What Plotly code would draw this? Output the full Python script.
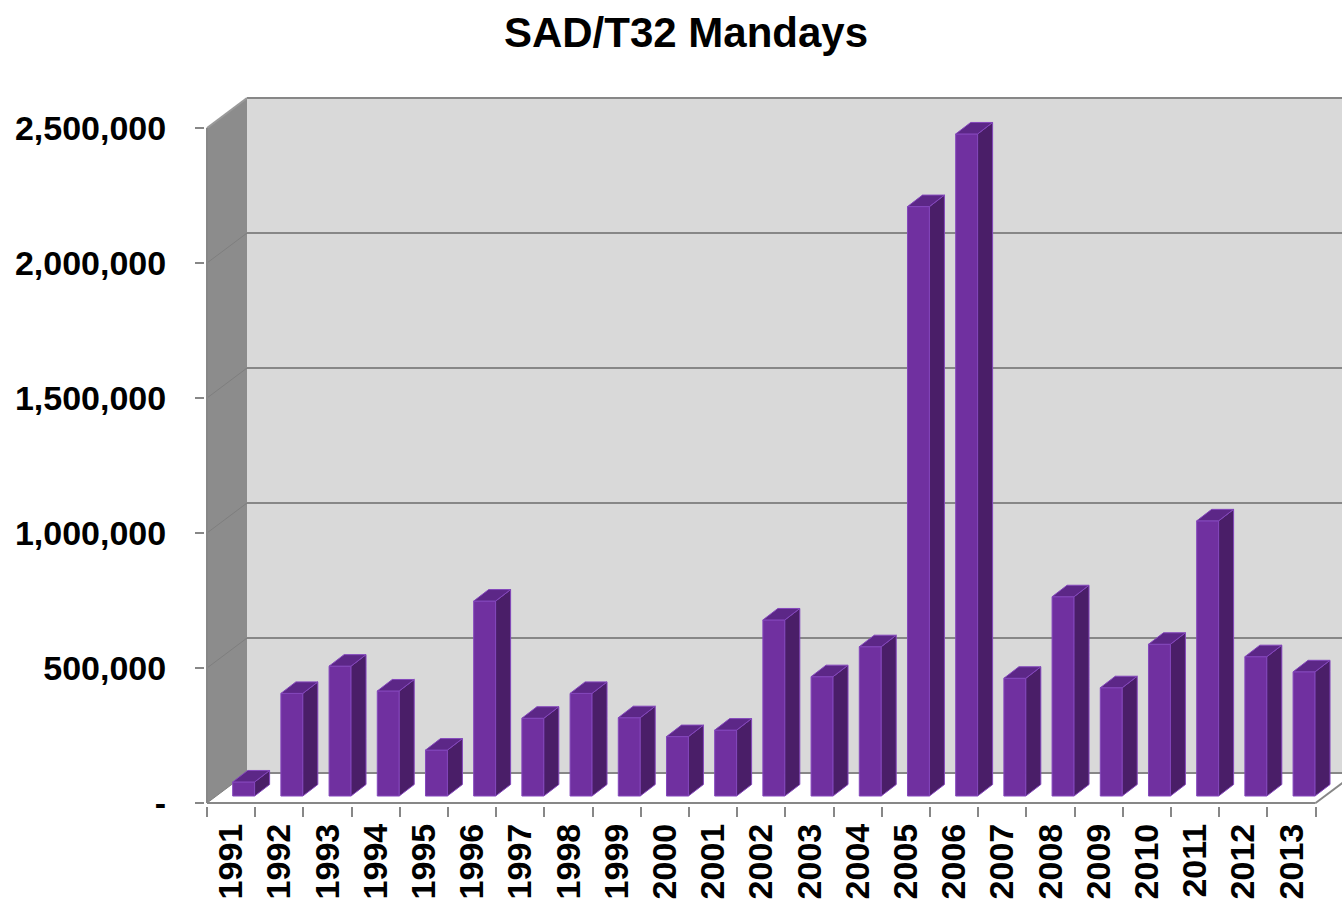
import plotly.graph_objects as go

# ---- data ----
years = [str(y) for y in range(1991, 2014)]
mandays = [52000, 380000, 481000, 389000, 170000, 722000, 288000, 380000,
           290000, 220000, 244000, 652000, 442000, 553000, 2183000, 2452000,
           436000, 738000, 401000, 562000, 1019000, 516000, 460000]
y_tickvals = [0, 500000, 1000000, 1500000, 2000000, 2500000]
y_ticktext = ["-", "500,000", "1,000,000", "1,500,000", "2,000,000", "2,500,000"]
title_text = "SAD/T32 Mandays"

# ---- geometry / style constants (pixels converted to axis units) ----
W, H = 1342, 901
P = 48.2            # px per category
K = 270.0 / 1e6     # px per value unit
ML, MB, MT = 205, 95, 90
X0_PX = 207         # pixel of x=-0.5
Y0_PX = 803         # pixel of y=0
xmin = -0.5 - (X0_PX - ML) / P
xmax = xmin + (W - ML) / P
ymin = -((H - MB) - Y0_PX) / K
ymax = (Y0_PX - MT) / K
YTOP = y_tickvals[-1]

WALL_DX, WALL_DY = 40 / P, 30 / K
BAR_W, BAR_OFF = 0.455, 0.033
BAR_BASE = 7 / K
SIDE_DX, SIDE_DY = 15 / P, 11.5 / K

FRONT, SIDE, TOP, EDGE = "#7030A0", "#4A1E68", "#5C2787", "#8447BC"
GRID = "#878787"
n = len(years)
xs = list(range(n))

fig = go.Figure()

# front faces
fig.add_trace(go.Bar(x=xs, y=mandays, base=BAR_BASE, width=BAR_W, offset=BAR_OFF,
                     marker=dict(color=FRONT, line=dict(color=EDGE, width=1)),
                     hoverinfo="skip"))

# side and top faces
sx, sy, tx, ty = [], [], [], []
for i, v in enumerate(mandays):
    xl = i + BAR_OFF
    xr = xl + BAR_W
    y0 = BAR_BASE
    y1 = BAR_BASE + v
    sx += [xr, xr, xr + SIDE_DX, xr + SIDE_DX, xr, None]
    sy += [y0, y1, y1 + SIDE_DY, y0 + SIDE_DY, y0, None]
    tx += [xl, xr, xr + SIDE_DX, xl + SIDE_DX, xl, None]
    ty += [y1, y1, y1 + SIDE_DY, y1 + SIDE_DY, y1, None]
fig.add_trace(go.Scatter(x=sx, y=sy, mode="lines", fill="toself", fillcolor=SIDE,
                         line=dict(color=EDGE, width=1), hoverinfo="skip"))
fig.add_trace(go.Scatter(x=tx, y=ty, mode="lines", fill="toself", fillcolor=TOP,
                         line=dict(color=EDGE, width=1), hoverinfo="skip"))

# walls, gridlines, axis lines as shapes below traces
shapes = []
bx = -0.5 + WALL_DX
shapes.append(dict(type="rect", xref="x", yref="y", x0=bx, x1=xmax + 1,
                   y0=WALL_DY, y1=YTOP + WALL_DY, fillcolor="#D9D9D9",
                   line=dict(width=0), layer="below"))
shapes.append(dict(type="path", xref="x", yref="y",
                   path=f"M {-0.5},{0} L {bx},{WALL_DY} L {bx},{YTOP + WALL_DY} L {-0.5},{YTOP} Z",
                   fillcolor="#8C8C8C", line=dict(width=0), layer="below"))
for g in y_tickvals:
    shapes.append(dict(type="line", xref="x", yref="y", x0=bx, x1=xmax + 1,
                       y0=g + WALL_DY, y1=g + WALL_DY, line=dict(color=GRID, width=2),
                       layer="below"))
    shapes.append(dict(type="line", xref="x", yref="y", x0=-0.5, x1=bx,
                       y0=g, y1=g + WALL_DY,
                       line=dict(color="#9A9A9A" if g == YTOP else "#7E7E7E",
                                 width=2 if g == YTOP else 1),
                       layer="below"))
shapes.append(dict(type="line", xref="x", yref="y", x0=-0.5, x1=n - 0.5, y0=0, y1=0,
                   line=dict(color=GRID, width=2), layer="below"))
shapes.append(dict(type="line", xref="x", yref="y", x0=n - 0.5, x1=n - 0.5 + WALL_DX,
                   y0=0, y1=WALL_DY, line=dict(color=GRID, width=2), layer="below"))
shapes.append(dict(type="line", xref="x", yref="y", x0=-0.5, x1=-0.5, y0=0, y1=YTOP,
                   line=dict(color=GRID, width=2), layer="below"))

lbl_font = dict(family="Liberation Sans, Arial, sans-serif", size=34, color="black",
                weight="bold")

fig.update_layout(
    width=W, height=H,
    margin=dict(l=ML, r=0, t=MT, b=MB, pad=0),
    paper_bgcolor="white", plot_bgcolor="white",
    showlegend=False,
    shapes=shapes,
    title=dict(text=title_text, x=686 / W, xanchor="center", y=1 - 32 / H,
               yanchor="middle",
               font=dict(family="Liberation Sans, Arial, sans-serif", size=42,
                         color="black", weight="bold")),
    xaxis=dict(range=[xmin, xmax], tickmode="array", tickvals=xs, ticktext=years,
               tickangle=-90, ticks="", showgrid=False, zeroline=False, showline=False,
               tickfont=lbl_font, ticklabelstandoff=10,
               minor=dict(ticks="outside", tickmode="linear", tick0=-0.5, dtick=1,
                          ticklen=10, tickwidth=2, tickcolor=GRID, showgrid=False)),
    yaxis=dict(range=[ymin, ymax], tickmode="array", tickvals=y_tickvals,
               ticktext=y_ticktext, ticks="outside", ticklen=9, tickwidth=2,
               tickcolor=GRID, showgrid=False, zeroline=False, showline=False,
               tickfont=lbl_font, ticklabelstandoff=22),
)

fig.write_html("out.html", config={"displayModeBar": False},
               post_script="document.body.style.margin='0';document.body.style.overflow='hidden';")
